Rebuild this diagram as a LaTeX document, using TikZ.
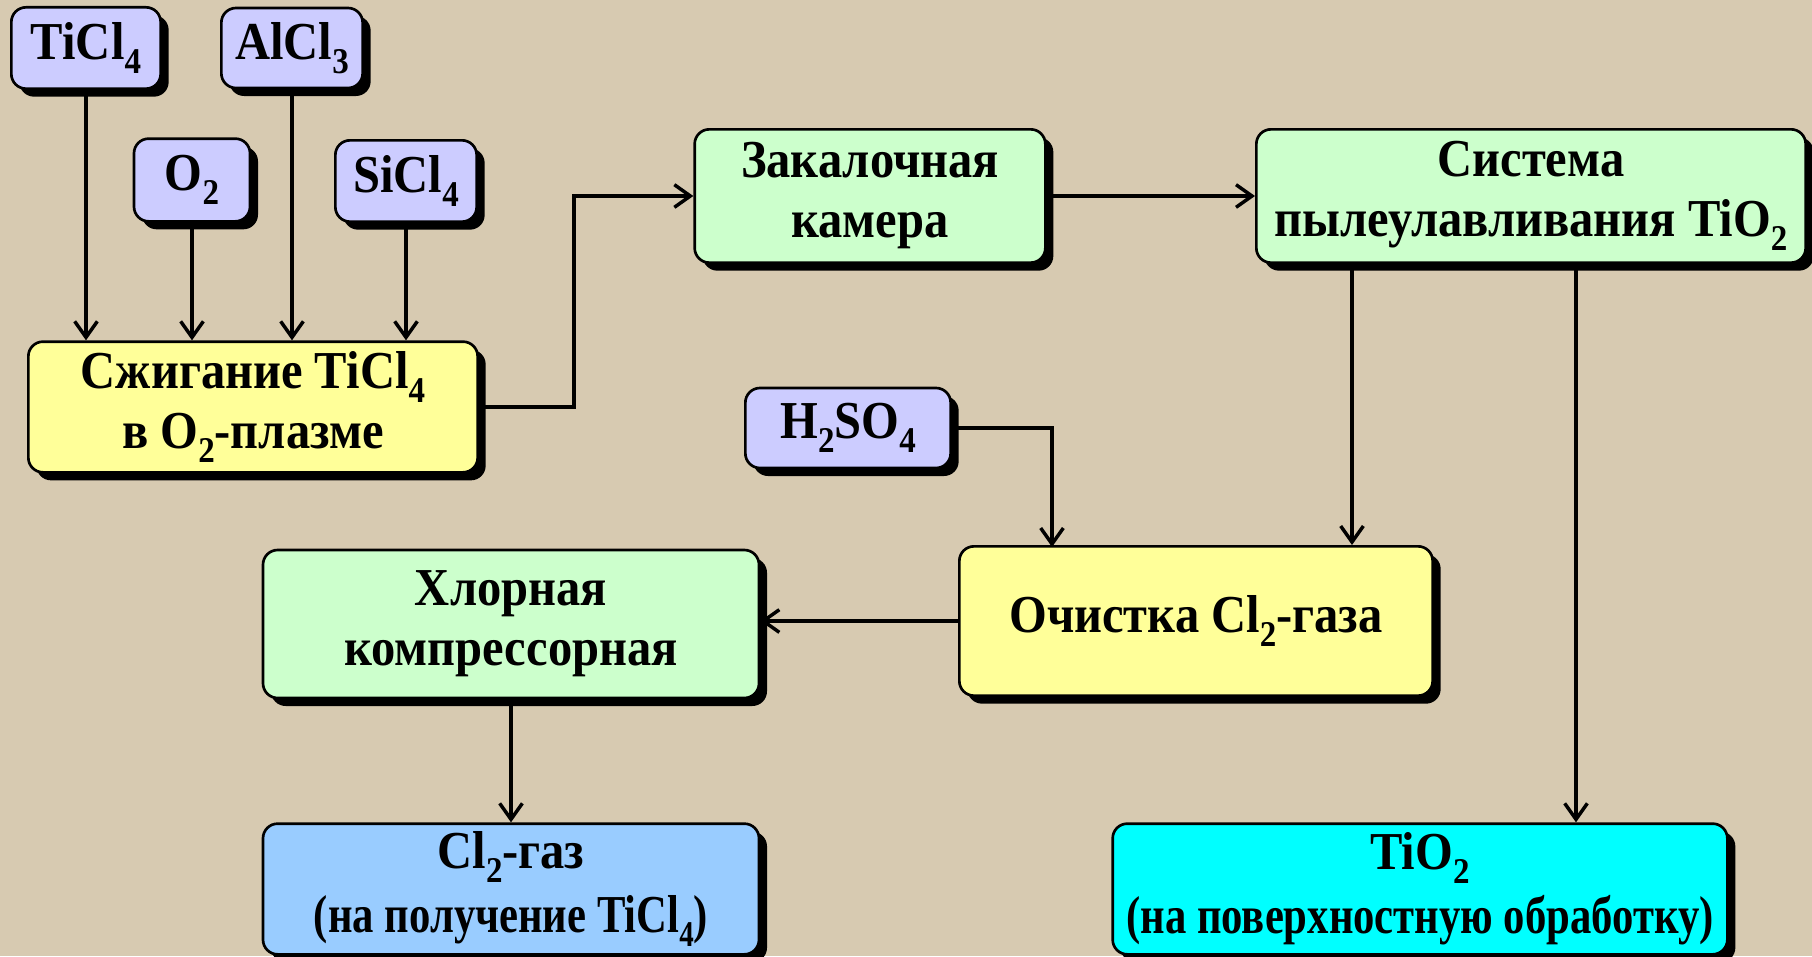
\documentclass[tikz,border=0pt]{standalone}
\usepackage{graphicx}
\usepackage{fontspec}
\setmainfont{Liberation Serif}[FakeStretch=0.91]
\newfontfamily\narrowserif{Liberation Serif}[FakeStretch=0.8]
\usetikzlibrary{arrows.meta,shadows}

\definecolor{bgbeige}{RGB}{215,202,177}
\definecolor{feedblue}{RGB}{204,204,255}
\definecolor{stepyellow}{RGB}{255,255,153}
\definecolor{stepgreen}{RGB}{204,255,204}
\definecolor{outblue}{RGB}{153,204,255}
\definecolor{outcyan}{RGB}{0,255,255}

\newcommand{\chsub}[1]{\raisebox{-0.26em}{\scalebox{0.68}{#1}}}

\tikzset{
  blk/.style={draw, line width=2pt, rounded corners=11pt, align=center,
    inner sep=0pt, font=\fontsize{40}{45}\selectfont\bfseries,
    drop shadow={shadow xshift=6pt, shadow yshift=-6pt, opacity=1, fill=black}},
  feed/.style={blk, fill=feedblue},
  burner/.style={blk, fill=stepyellow},
  unit/.style={blk, fill=stepgreen},
  product/.style={blk, font=\fontsize{40}{48}\selectfont\bfseries},
  flow/.style={line width=2.8pt, -{Straight Barb[length=12pt,width=17pt,line width=2.6pt]}},
}

\begin{document}
\begin{tikzpicture}[x=0.75pt,y=0.75pt,yscale=-1,xscale=1]

\fill[bgbeige] (0,0) rectangle (1812,956);
\useasboundingbox (0,0) rectangle (1812,956);

% feeds
\node[feed, minimum width=112pt, minimum height=61pt] (ticl) at (86,48) {TiCl\chsub{4}};
\node[feed, minimum width=106pt, minimum height=60pt] (alcl) at (292,48) {AlCl\chsub{3}};
\node[feed, minimum width=87pt, minimum height=62pt] (otwo) at (192,180) {O\chsub{2}};
\node[feed, minimum width=106pt, minimum height=61pt] (sicl) at (406,181) {SiCl\chsub{4}};
\node[feed, minimum width=154pt, minimum height=60pt] (acid) at (848,428) {H\chsub{2}SO\chsub{4}};

% process steps
\node[burner, minimum width=337pt, minimum height=98pt] (burn) at (253,407) {Сжигание TiCl\chsub{4}\\в O\chsub{2}-плазме};
\node[unit, minimum width=263pt, minimum height=100pt] (quench) at (870,196) {Закалочная\\камера};
\node[unit, minimum width=412pt, minimum height=100pt] (dust) at (1531,196) {Система\\пылеулавливания TiO\chsub{2}};
\node[burner, minimum width=355pt, minimum height=112pt] (clean) at (1196,621) {Очистка Cl\chsub{2}-газа};
\node[unit, minimum width=372pt, minimum height=111pt] (comp) at (511,624) {Хлорная\\компрессорная};

% products
\node[product, fill=outblue, minimum width=372pt, minimum height=98pt] (clgas) at (511,889) {Cl\chsub{2}-газ\\{\narrowserif(на получение TiCl\chsub{4})}};
\node[product, fill=outcyan, minimum width=461pt, minimum height=98pt] (tio) at (1420,889) {TiO\chsub{2}\\{\narrowserif(на поверхностную обработку)}};

% taps
\coordinate (bend) at (574,407);
\coordinate (dustL) at (1352,263);
\coordinate (dustR) at (1576,263);
\coordinate (acidT) at (1052,547);

% connectors
\draw[flow] (ticl) -- (ticl |- burn.north);
\draw[flow] (otwo) -- (otwo |- burn.north);
\draw[flow] (alcl) -- (alcl |- burn.north);
\draw[flow] (sicl) -- (sicl |- burn.north);
\draw[flow] (burn.east) -- (bend) |- (quench.west);
\draw[flow] (quench) -- (dust);
\draw[flow] (dustL) -- (dustL |- clean.north);
\draw[flow] (dustR) -- (dustR |- tio.north);
\draw[flow] (acid.east) -| (acidT);
\draw[flow] (clean.west) -- (clean.west -| comp.east);
\draw[flow] (comp.south) -- (clgas.north);
\end{tikzpicture}
\end{document}
